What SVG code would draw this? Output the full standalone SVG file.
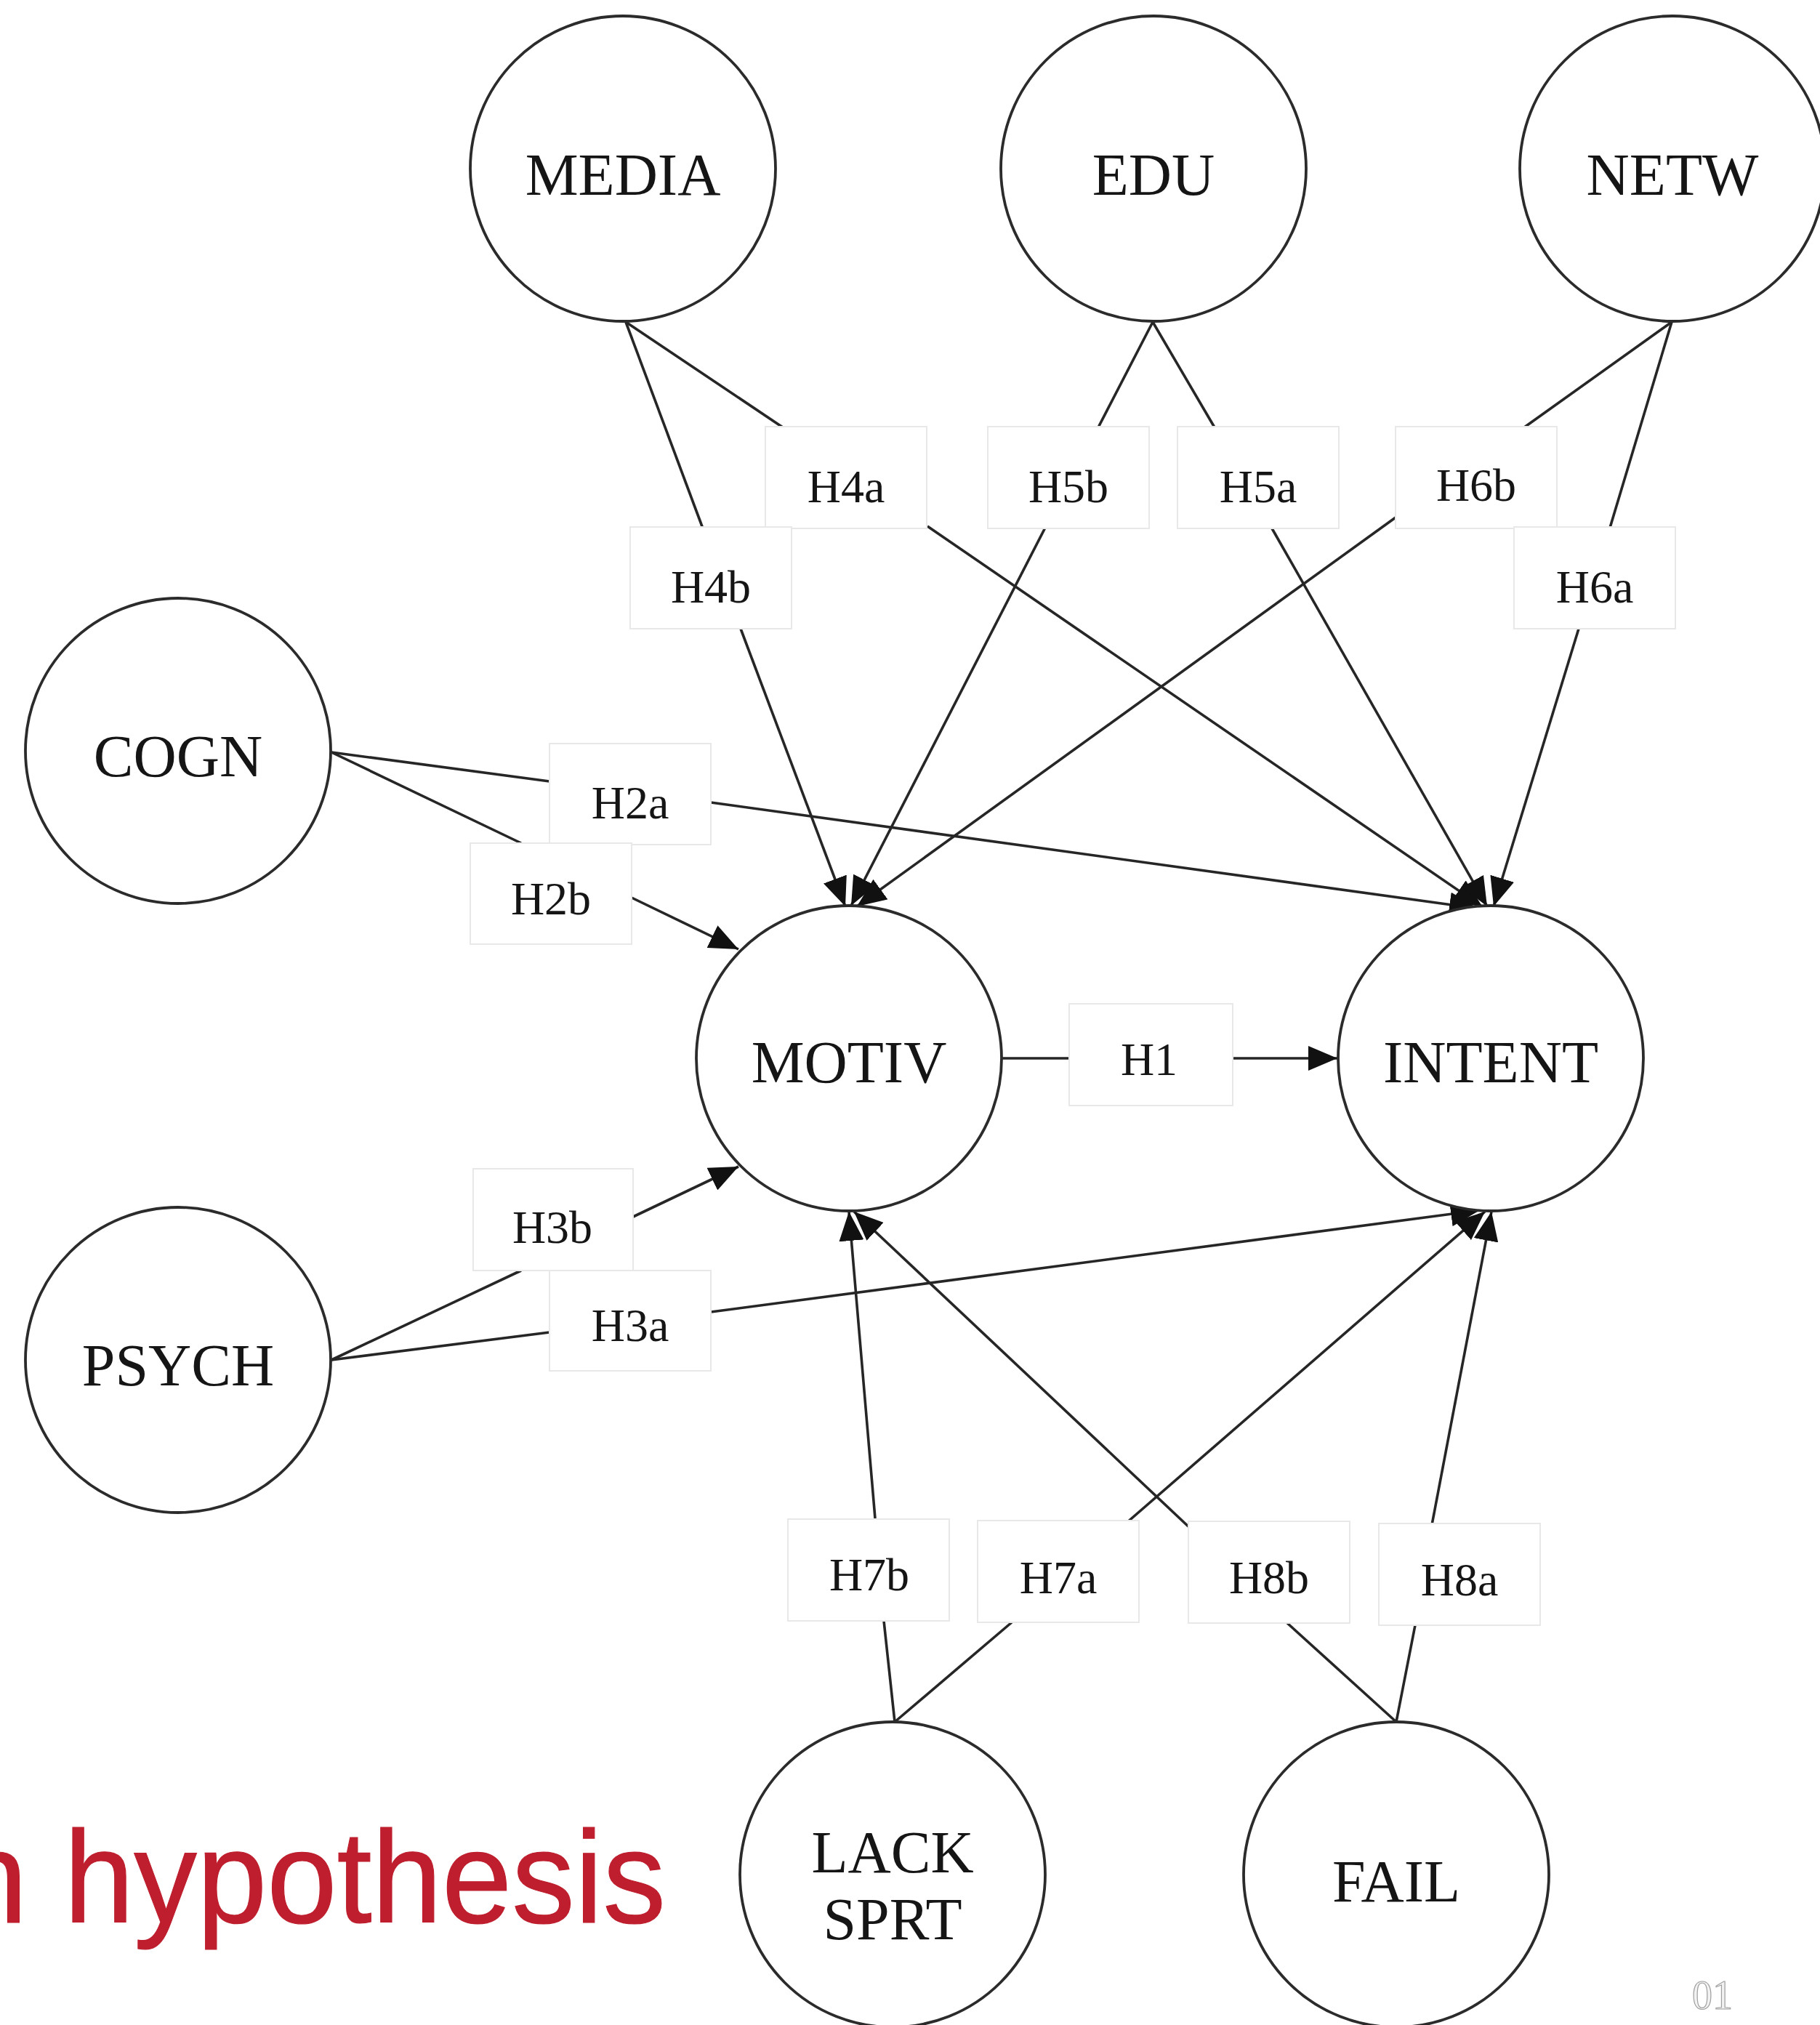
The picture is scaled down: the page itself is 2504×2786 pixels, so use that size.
<svg xmlns="http://www.w3.org/2000/svg" width="2504" height="2786" viewBox="0 0 2504 2786">
  <style>
    .node circle { fill: #ffffff; stroke: #2b2b2b; stroke-width: 3.8; }
    .node text { font-family: "Liberation Serif", "Times New Roman", serif; font-size: 82px; fill: #151515; text-anchor: middle; }
    .lbl rect { fill: #ffffff; stroke: #e8e8e8; stroke-width: 2; }
    .lbl text { font-family: "Liberation Serif", "Times New Roman", serif; font-size: 64px; fill: #151515; text-anchor: middle; }
    .edges line { stroke: #262626; stroke-width: 3.6; fill: none; }
    .edges line.arr { marker-end: url(#head); }
    .title { font-family: "Liberation Sans", Arial, sans-serif; font-size: 180px; fill: #be1e2d; stroke: #be1e2d; stroke-width: 1.2; }
    .page { font-family: "Liberation Serif", "Times New Roman", serif; font-size: 56px; fill: #f2f2f2; stroke: #a0a0a0; stroke-width: 1.2; text-anchor: middle; }
  </style>
  <defs>
    <marker id="head" markerUnits="userSpaceOnUse" markerWidth="42" markerHeight="34" refX="40" refY="17" orient="auto">
      <path d="M0,0 L40,17 L0,34 z" fill="#111111"/>
    </marker>
  </defs>

  <rect width="2504" height="2786" fill="#ffffff"/>

  <!-- connectors: source to label box, then label box to target -->
  <g id="edges" class="edges">
    <line x1="861" y1="443" x2="1080" y2="590"/>
    <line x1="861" y1="443" x2="967" y2="727"/>
    <line x1="1586" y1="443" x2="1511" y2="588"/>
    <line x1="1586" y1="443" x2="1671" y2="588"/>
    <line x1="2300" y1="443" x2="2097" y2="588"/>
    <line x1="2300" y1="443" x2="2215" y2="726"/>
    <line x1="456" y1="1035" x2="756" y2="1075"/>
    <line x1="456" y1="1035" x2="717" y2="1160"/>
    <line x1="1378" y1="1456" x2="1471" y2="1456"/>
    <line x1="456" y1="1871" x2="717" y2="1748"/>
    <line x1="456" y1="1871" x2="756" y2="1833"/>
    <line x1="1231" y1="2369" x2="1216" y2="2230"/>
    <line x1="1231" y1="2369" x2="1392" y2="2232"/>
    <line x1="1921" y1="2369" x2="1771" y2="2233"/>
    <line x1="1921" y1="2369" x2="1947" y2="2236"/>

    <line class="arr" x1="1276" y1="724" x2="2040" y2="1248"/>
    <line class="arr" x1="1019" y1="865" x2="1163" y2="1247"/>
    <line class="arr" x1="1438" y1="726" x2="1171" y2="1246"/>
    <line class="arr" x1="1750" y1="727" x2="2046" y2="1247"/>
    <line class="arr" x1="1920" y1="712" x2="1179" y2="1247"/>
    <line class="arr" x1="2172" y1="865" x2="2055" y2="1247"/>
    <line class="arr" x1="978" y1="1104" x2="2034" y2="1250"/>
    <line class="arr" x1="869" y1="1235" x2="1016" y2="1306"/>
    <line class="arr" x1="1696" y1="1456" x2="1840" y2="1456"/>
    <line class="arr" x1="869" y1="1675" x2="1016" y2="1605"/>
    <line class="arr" x1="978" y1="1805" x2="2036" y2="1665"/>
    <line class="arr" x1="1204" y1="2089" x2="1168" y2="1667"/>
    <line class="arr" x1="1550" y1="2095" x2="2043" y2="1667"/>
    <line class="arr" x1="1638" y1="2103" x2="1175" y2="1667"/>
    <line class="arr" x1="1970" y1="2098" x2="2052" y2="1667"/>
  </g>

  <!-- hypothesis labels -->
  <g id="H4a" class="lbl"><rect x="1053" y="587" width="222" height="140"/><text x="1164" y="691">H4a</text></g>
  <g id="H5b" class="lbl"><rect x="1359" y="587" width="222" height="140"/><text x="1470" y="691">H5b</text></g>
  <g id="H5a" class="lbl"><rect x="1620" y="587" width="222" height="140"/><text x="1731" y="691">H5a</text></g>
  <g id="H6b" class="lbl"><rect x="1920" y="587" width="222" height="140"/><text x="2031" y="689">H6b</text></g>
  <g id="H4b" class="lbl"><rect x="867" y="725" width="222" height="140"/><text x="978" y="829">H4b</text></g>
  <g id="H6a" class="lbl"><rect x="2083" y="725" width="222" height="140"/><text x="2194" y="829">H6a</text></g>
  <g id="H2a" class="lbl"><rect x="756" y="1023" width="222" height="139"/><text x="867" y="1126">H2a</text></g>
  <g id="H2b" class="lbl"><rect x="647" y="1160" width="222" height="139"/><text x="758" y="1258">H2b</text></g>
  <g id="H1" class="lbl"><rect x="1471" y="1381" width="225" height="140"/><text x="1581" y="1479">H1</text></g>
  <g id="H3b" class="lbl"><rect x="651" y="1608" width="220" height="140"/><text x="760" y="1710">H3b</text></g>
  <g id="H3a" class="lbl"><rect x="756" y="1748" width="222" height="138"/><text x="867" y="1845">H3a</text></g>
  <g id="H7b" class="lbl"><rect x="1084" y="2090" width="222" height="140"/><text x="1196" y="2188">H7b</text></g>
  <g id="H7a" class="lbl"><rect x="1345" y="2092" width="222" height="140"/><text x="1456" y="2192">H7a</text></g>
  <g id="H8b" class="lbl"><rect x="1635" y="2093" width="222" height="140"/><text x="1746" y="2192">H8b</text></g>
  <g id="H8a" class="lbl"><rect x="1897" y="2096" width="222" height="140"/><text x="2008" y="2195">H8a</text></g>

  <!-- construct nodes -->
  <g id="MEDIA" class="node"><circle cx="857" cy="232" r="210"/><text x="857" y="268">MEDIA</text></g>
  <g id="EDU" class="node"><circle cx="1587" cy="232" r="210"/><text x="1587" y="268">EDU</text></g>
  <g id="NETW" class="node"><circle cx="2301" cy="232" r="210"/><text x="2301" y="268">NETW</text></g>
  <g id="COGN" class="node"><circle cx="245" cy="1033" r="210"/><text x="245" y="1068">COGN</text></g>
  <g id="PSYCH" class="node"><circle cx="245" cy="1871" r="210"/><text x="245" y="1906">PSYCH</text></g>
  <g id="MOTIV" class="node"><circle cx="1168" cy="1456" r="210"/><text x="1168" y="1489">MOTIV</text></g>
  <g id="INTENT" class="node"><circle cx="2051" cy="1456" r="210"/><text x="2051" y="1489">INTENT</text></g>
  <g id="LACK_SPRT" class="node"><circle cx="1228" cy="2579" r="210"/><text x="1228" y="2576">LACK</text><text x="1228" y="2668">SPRT</text></g>
  <g id="FAIL" class="node"><circle cx="1921" cy="2579" r="210"/><text x="1921" y="2616">FAIL</text></g>

  <!-- slide title and page number -->
  <text class="title" x="-62" y="2645">n</text>
  <text class="title" x="88" y="2645" textLength="828" lengthAdjust="spacingAndGlyphs">hypothesis</text>
  <text class="page" x="2356" y="2764">01</text>
</svg>
